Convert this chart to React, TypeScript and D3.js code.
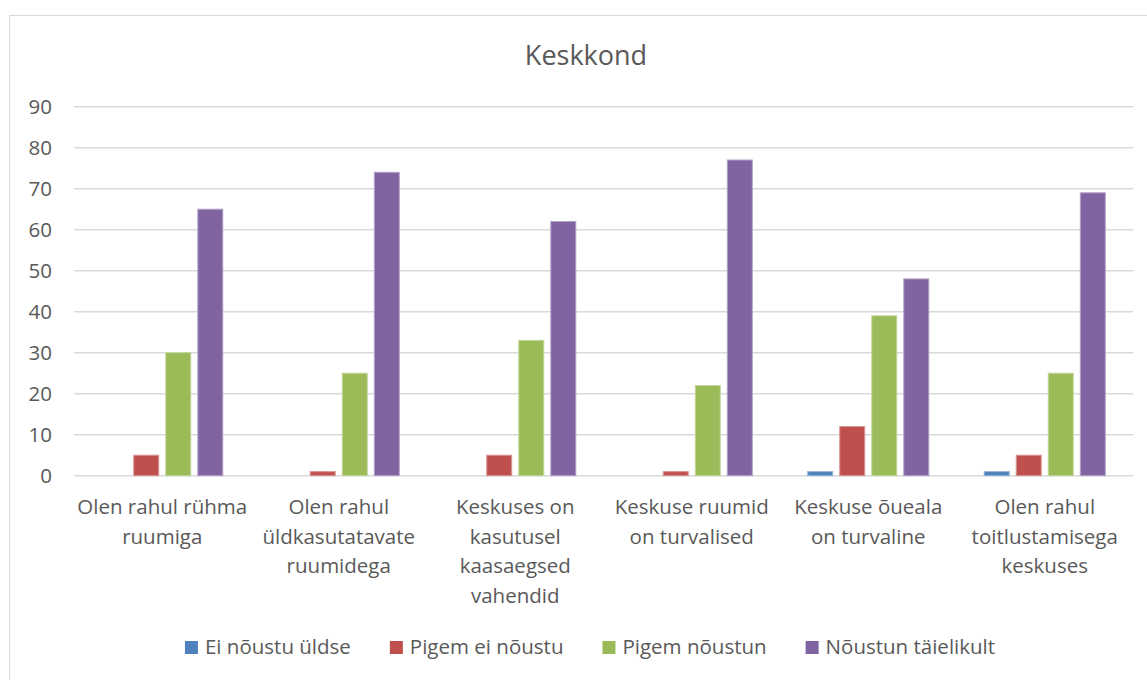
import React, { useEffect, useRef } from 'react';
import * as d3 from 'd3';

const categories: string[][] = [
  ['Olen rahul rühma', 'ruumiga'],
  ['Olen rahul', 'üldkasutatavate', 'ruumidega'],
  ['Keskuses on', 'kasutusel', 'kaasaegsed', 'vahendid'],
  ['Keskuse ruumid', 'on turvalised'],
  ['Keskuse õueala', 'on turvaline'],
  ['Olen rahul', 'toitlustamisega', 'keskuses'],
];

const seriesNames = ['Ei nõustu üldse', 'Pigem ei nõustu', 'Pigem nõustun', 'Nõustun täielikult'];
const seriesColors = ['#4F81BD', '#C0504D', '#9BBB59', '#8064A2'];

const eiNoustuUldse = [0, 0, 0, 0, 1, 1];
const pigemEiNoustu = [5, 1, 5, 1, 12, 5];
const pigemNoustun = [30, 25, 33, 22, 39, 25];
const noustunTaielikult = [65, 74, 62, 77, 48, 69];

const yTicks = [0, 10, 20, 30, 40, 50, 60, 70, 80, 90];

const FONT = '"Open Sans", sans-serif';

export default function App() {
  const svgRef = useRef<SVGSVGElement>(null);

  useEffect(() => {
    if (!svgRef.current) return;
    const width = 1147;
    const height = 680;
    const plot = { left: 74, right: 1133, top: 106.7, bottom: 475.7 };

    const svg = d3.select(svgRef.current);
    svg.selectAll('*').remove();

    // chart frame
    svg.append('rect')
      .attr('x', 9.5).attr('y', 15.5)
      .attr('width', width + 20).attr('height', height + 20)
      .attr('fill', '#fff').attr('stroke', '#d9d9d9').attr('stroke-width', 1);

    const series = [eiNoustuUldse, pigemEiNoustu, pigemNoustun, noustunTaielikult];
    const catIdx = categories.map((_, i) => String(i));

    const x0 = d3.scaleBand<string>().domain(catIdx).range([plot.left, plot.right]).padding(0);
    const outer = 27.7;
    const x1 = d3.scaleBand<string>()
      .domain(seriesNames)
      .range([outer, x0.bandwidth() - outer])
      .paddingInner(0.22)
      .paddingOuter(0);
    const y = d3.scaleLinear().domain([0, 90]).range([plot.bottom, plot.top]);

    // gridlines
    svg.append('g')
      .selectAll('line')
      .data(yTicks)
      .enter()
      .append('line')
      .attr('x1', plot.left).attr('x2', plot.right)
      .attr('y1', (d) => y(d)).attr('y2', (d) => y(d))
      .attr('stroke', '#d9d9d9').attr('stroke-width', 1.5);

    // y tick labels
    svg.append('g')
      .selectAll('text')
      .data(yTicks)
      .enter()
      .append('text')
      .attr('x', 52).attr('y', (d) => y(d))
      .attr('dy', '0.35em')
      .attr('text-anchor', 'end')
      .style('font-family', FONT).style('font-size', '20.5px')
      .attr('fill', '#595959')
      .text((d) => d);

    // bars
    const groups = svg.append('g')
      .selectAll('g')
      .data(categories.map((_, i) => i))
      .enter()
      .append('g')
      .attr('transform', (i) => `translate(${x0(String(i))},0)`);

    groups.selectAll('rect')
      .data((i) => series.map((s, k) => ({ k, v: s[i] })))
      .enter()
      .append('rect')
      .filter((d) => d.v > 0)
      .attr('x', (d) => x1(seriesNames[d.k])!)
      .attr('width', x1.bandwidth())
      .attr('y', (d) => y(d.v))
      .attr('height', (d) => y(0) - y(d.v))
      .attr('fill', (d) => seriesColors[d.k])
      .attr('stroke', (d) => d3.interpolateRgb(seriesColors[d.k], '#ffffff')(0.4))
      .attr('stroke-width', 1);

    // category labels
    const labels = svg.append('g')
      .selectAll('text')
      .data(categories)
      .enter()
      .append('text')
      .attr('text-anchor', 'middle')
      .style('font-family', FONT).style('font-size', '20.5px')
      .attr('fill', '#595959');
    labels.each(function (lines, i) {
      const t = d3.select(this);
      lines.forEach((ln, j) => {
        t.append('tspan')
          .attr('x', x0(String(i))! + x0.bandwidth() / 2)
          .attr('y', 514 + j * 29.5)
          .text(ln);
      });
    });

    // title
    svg.append('text')
      .attr('x', 586).attr('y', 65)
      .attr('text-anchor', 'middle')
      .style('font-family', FONT).style('font-size', '27px')
      .attr('fill', '#595959')
      .text('Keskkond');

    // legend
    const legend = svg.append('g');
    const items = legend.selectAll('g')
      .data(seriesNames)
      .enter()
      .append('g');
    items.append('rect')
      .attr('width', 13).attr('height', 13)
      .attr('y', 641)
      .attr('fill', (_, k) => seriesColors[k]);
    const texts = items.append('text')
      .attr('x', 20).attr('y', 654)
      .style('font-family', FONT).style('font-size', '20.5px')
      .attr('fill', '#595959')
      .text((d) => d);
    const widths: number[] = [];
    texts.each(function () { widths.push((this as SVGTextElement).getComputedTextLength()); });
    const gap = 39;
    const total = d3.sum(widths.map((w) => 20 + w)) + gap * (widths.length - 1);
    let cx = 590 - total / 2;
    items.attr('transform', (_, k) => {
      const tx = cx;
      cx += 20 + widths[k] + gap;
      return `translate(${tx},0)`;
    });
  }, []);

  return (
    <svg
      ref={svgRef}
      width={1147}
      height={680}
      style={{ position: 'absolute', left: 0, top: 0, display: 'block', background: '#fff' }}
    />
  );
}
